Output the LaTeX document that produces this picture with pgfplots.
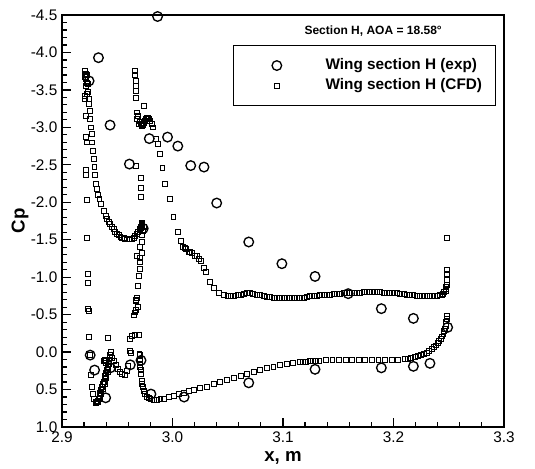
\documentclass[border=0pt]{standalone}
\usepackage{fontspec}
\setmainfont{Liberation Sans}
\usepackage{pgfplots}
\pgfplotsset{compat=1.18}
\usepackage{pgfplotstable}

\pgfplotstableread{
x y
2.9245 -3.62
2.9330 -3.93
2.9435 -3.03
2.9610 -2.51
2.9865 -4.48
2.9790 -2.85
2.9955 -2.87
3.0048 -2.75
3.0165 -2.49
3.0285 -2.47
3.0400 -1.99
2.9735 -1.65
3.0690 -1.47
3.0990 -1.18
3.1290 -1.01
3.1590 -0.78
3.1890 -0.58
3.2180 -0.45
3.2490 -0.33
2.9255 0.04
2.9295 0.24
2.9395 0.61
2.9438 0.21
2.9618 0.17
2.9715 0.11
2.9805 0.56
3.0105 0.60
3.0690 0.41
3.1290 0.23
3.1890 0.21
3.2180 0.19
3.2330 0.15
}\expdata

\pgfplotstableread{
x y
2.9205 -3.75
2.9213 -3.71
2.9207 -3.68
2.9220 -3.65
2.9228 -3.60
2.9213 -3.56
2.9228 -3.45
2.9207 -3.42
2.9210 -3.38
2.9213 -3.15
2.9213 -2.87
2.9225 -2.80
2.9215 -2.43
2.9218 -2.37
2.9222 -2.03
2.9228 -1.52
2.9232 -1.04
2.9235 -0.93
2.9238 -0.58
2.9240 -0.55
2.9244 -0.20
2.9254 0.04
2.9260 0.30
2.9268 0.46
2.9278 0.56
2.9290 0.62
2.9303 0.67
2.9225 -3.70
2.9232 -3.58
2.9236 -3.48
2.9241 -3.38
2.9245 -3.31
2.9250 -3.22
2.9256 -3.11
2.9262 -3.00
2.9268 -2.91
2.9274 -2.80
2.9280 -2.69
2.9286 -2.58
2.9293 -2.47
2.9300 -2.36
2.9307 -2.25
2.9316 -2.18
2.9326 -2.10
2.9338 -2.04
2.9353 -1.98
2.9377 -1.89
2.9395 -1.82
2.9407 -1.78
2.9422 -1.74
2.9437 -1.71
2.9452 -1.67
2.9467 -1.64
2.9482 -1.60
2.9497 -1.58
2.9512 -1.56
2.9528 -1.54
2.9543 -1.53
2.9558 -1.52
2.9573 -1.51
2.9588 -1.505
2.9603 -1.505
2.9618 -1.51
2.9633 -1.51
2.9648 -1.52
2.9663 -1.55
2.9678 -1.58
2.9690 -1.61
2.9702 -1.63
2.9712 -1.67
2.9720 -1.70
2.9726 -1.73
2.9715 -1.66
2.9722 -1.69
2.9705 -1.64
2.9723 -1.71
2.9738 -1.67
2.9732 -1.62
2.9723 -1.56
2.9723 -1.47
2.9708 -1.40
2.9723 -1.33
2.9678 -1.29
2.9708 -1.26
2.9708 -1.21
2.9702 -1.11
2.9693 -1.02
2.9687 -0.89
2.9678 -0.73
2.9672 -0.70
2.9670 -0.68
2.9687 -0.60
2.9672 -0.57
2.9663 -0.53
2.9654 -0.49
2.9633 -0.22
2.9663 -0.23
2.9693 -0.23
2.9416 -0.19
2.9305 0.68
2.9315 0.67
2.9322 0.65
2.9330 0.62
2.9338 0.59
2.9346 0.55
2.9354 0.51
2.9362 0.47
2.9370 0.43
2.9377 0.40
2.9385 0.36
2.9392 0.32
2.9400 0.28
2.9407 0.24
2.9413 0.20
2.9420 0.16
2.9425 0.12
2.9430 0.08
2.9435 0.04
2.9440 0.00
2.9325 0.67
2.9340 0.62
2.9355 0.56
2.9370 0.49
2.9385 0.42
2.9400 0.34
2.9412 0.27
2.9380 0.12
2.9390 0.12
2.9400 0.12
2.9385 0.10
2.9395 0.14
2.9452 0.08
2.9470 0.12
2.9490 0.17
2.9505 0.23
2.9520 0.27
2.9540 0.29
2.9565 0.30
2.9583 0.25
2.9597 0.18
2.9612 -0.02
2.9622 0.01
2.9618 -0.18
2.9705 0.04
2.9700 0.02
2.9663 -3.75
2.9663 -3.70
2.9669 -3.62
2.9669 -3.56
2.9669 -3.49
2.9672 -3.40
2.9738 -3.29
2.9678 -3.20
2.9678 -3.11
2.9690 -3.15
2.9693 -3.05
2.9700 -3.08
2.9710 -3.04
2.9723 -3.02
2.9730 -3.03
2.9740 -3.06
2.9753 -3.09
2.9760 -3.11
2.9770 -3.13
2.9778 -3.13
2.9790 -3.11
2.9799 -3.09
2.9810 -3.05
2.9670 -2.48
2.9710 -2.33
2.9710 -2.19
2.9710 -2.07
2.9820 -3.00
2.9850 -2.85
2.9870 -2.78
2.9885 -2.65
2.9908 -2.46
2.9935 -2.25
2.9972 -2.04
3.0008 -1.81
3.0045 -1.61
3.0075 -1.48
3.0094 -1.40
3.0110 -1.39
3.0125 -1.38
3.0146 -1.34
3.0160 -1.34
3.0176 -1.32
3.0200 -1.29
3.0221 -1.28
3.0240 -1.24
3.0257 -1.22
3.0281 -1.13
3.0302 -1.07
3.0336 -0.94
3.0372 -0.86
3.0418 -0.79
3.0463 -0.76
3.0500 -0.75
3.0530 -0.75
3.0560 -0.75
3.0590 -0.76
3.0620 -0.77
3.0645 -0.78
3.0670 -0.79
3.0700 -0.79
3.0730 -0.78
3.0765 -0.77
3.0794 -0.76
3.0824 -0.75
3.0854 -0.74
3.0884 -0.735
3.0914 -0.73
3.0944 -0.725
3.0974 -0.72
3.1004 -0.72
3.1035 -0.72
3.1065 -0.72
3.1095 -0.72
3.1125 -0.725
3.1155 -0.73
3.1185 -0.73
3.1216 -0.74
3.1246 -0.745
3.1276 -0.75
3.1306 -0.755
3.1336 -0.76
3.1366 -0.765
3.1396 -0.77
3.1426 -0.77
3.1457 -0.775
3.1487 -0.78
3.1517 -0.78
3.1547 -0.785
3.1577 -0.79
3.1607 -0.79
3.1638 -0.79
3.1668 -0.795
3.1698 -0.795
3.1728 -0.80
3.1758 -0.80
3.1788 -0.80
3.1818 -0.80
3.1849 -0.80
3.1879 -0.80
3.1909 -0.795
3.1939 -0.795
3.1969 -0.79
3.1999 -0.79
3.2030 -0.785
3.2060 -0.78
3.2090 -0.775
3.2120 -0.77
3.2150 -0.765
3.2180 -0.76
3.2210 -0.755
3.2240 -0.75
3.2270 -0.75
3.2301 -0.745
3.2331 -0.745
3.2361 -0.75
3.2391 -0.755
3.2420 -0.76
3.2436 -0.77
3.2450 -0.78
3.2460 -0.80
3.2470 -0.82
3.2475 -0.84
3.2478 -0.87
3.2479 -0.90
3.2479 -0.97
3.2479 -1.04
3.2479 -1.10
3.2479 -1.52
3.2484 -0.488
3.2481 -0.443
3.2478 -0.41
3.2475 -0.377
3.2471 -0.345
3.2466 -0.31
3.2459 -0.28
3.2451 -0.243
3.2440 -0.21
3.2428 -0.177
3.2413 -0.15
3.2398 -0.119
3.2383 -0.09
3.2368 -0.066
3.2346 -0.04
3.2324 -0.012
3.2302 0.005
3.2279 0.023
3.2250 0.04
3.2220 0.054
3.2190 0.067
3.2160 0.077
3.2130 0.085
3.2100 0.09
3.2041 0.10
3.1982 0.10
3.1922 0.105
3.1863 0.105
3.1804 0.108
3.1744 0.108
3.1685 0.108
3.1626 0.108
3.1566 0.108
3.1507 0.108
3.1447 0.108
3.1388 0.108
3.1329 0.112
3.1299 0.114
3.1269 0.117
3.1240 0.121
3.1210 0.126
3.1180 0.130
3.1150 0.134
3.1091 0.143
3.1032 0.157
3.0972 0.174
3.0913 0.197
3.0853 0.214
3.0794 0.237
3.0735 0.263
3.0675 0.29
3.0616 0.312
3.0553 0.345
3.0492 0.37
3.0431 0.40
3.0372 0.43
3.0311 0.46
3.0250 0.48
3.0191 0.50
3.0146 0.52
3.0100 0.54
3.0055 0.56
3.0010 0.58
2.9965 0.60
2.9920 0.62
2.9890 0.63
2.9860 0.64
2.9830 0.635
2.9800 0.625
2.9784 0.615
2.9770 0.60
2.9750 0.56
2.9740 0.52
2.9732 0.47
2.9725 0.43
2.9723 0.38
2.9714 0.29
2.9712 0.24
2.9708 0.20
2.9705 0.15
2.9702 0.11
}\cfddata

\begin{document}
\begin{tikzpicture}
\begin{axis}[
  scale only axis,
  width=331.5pt, height=309pt,
  xmin=2.9, xmax=3.3, ymin=-4.5, ymax=1.0,
  y dir=reverse,
  xtick={2.9,3.0,3.1,3.2,3.3},
  xticklabels={2.9,3.0,3.1,3.2,3.3},
  ytick={-4.5,-4.0,-3.5,-3.0,-2.5,-2.0,-1.5,-1.0,-0.5,0,0.5,1.0},
  yticklabels={-4.5,-4.0,-3.5,-3.0,-2.5,-2.0,-1.5,-1.0,-0.5,0.0,0.5,1.0},
  minor x tick num=4, minor y tick num=4,
  tick pos=left,
  tick align=inside,
  major tick length=7pt, minor tick length=4pt,
  every tick/.append style={black, line width=0.9pt},
  axis line style={line width=1.5pt},
  ticklabel style={font=\fontsize{11.5}{13}\selectfont},
  xlabel={x, m}, ylabel={Cp},
  ylabel shift=-5pt,
  label style={font=\bfseries\fontsize{14}{16}\selectfont},
  clip=false,
  legend style={at={(0.387,0.927)}, anchor=north west, draw=black, line width=0.7pt,
    inner xsep=10pt, inner ysep=9pt, row sep=3pt,
    font=\bfseries\fontsize{11.5}{13}\selectfont,
    nodes={inner sep=0pt, text height=9pt, text depth=3pt}},
  legend cell align=left,
  legend image code/.code={\path (-22pt,0pt) (36pt,0pt); \draw[#1] plot coordinates {(0pt,0pt)};},
]
\addplot[only marks, mark=o, mark size=3.6pt, line width=1pt, black] table[x=x,y=y] {\expdata};
\addlegendentry{Wing section H (exp)}
\addplot[only marks, mark=square, mark size=1.85pt, line width=0.55pt, black] table[x=x,y=y] {\cfddata};
\addlegendentry{Wing section H (CFD)}
\node[font=\bfseries\fontsize{9}{11}\selectfont] at (axis description cs:0.704,0.961) {Section H, AOA = 18.58°};
\end{axis}
\pgfresetboundingbox
\path[use as bounding box] ([xshift=-46.5pt,yshift=-30.75pt]current axis.south west) rectangle ++(401.25pt,351pt);
\end{tikzpicture}
\end{document}
